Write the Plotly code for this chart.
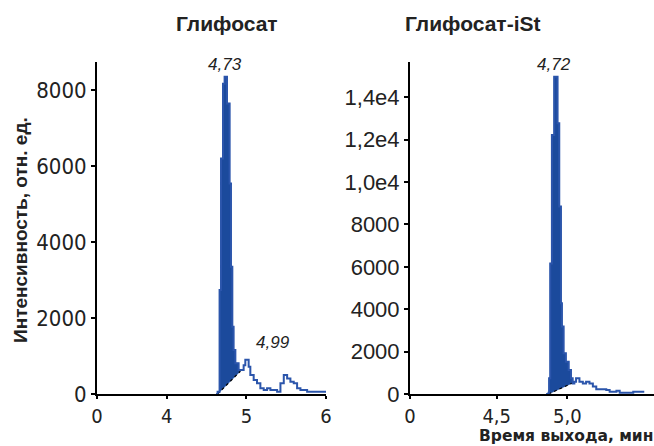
import plotly.graph_objects as go

# ---- data ----
# Left panel: Глифосат
gly_t = [4.62, 4.639, 4.664, 4.682, 4.707, 4.727, 4.757, 4.79, 4.807, 4.824, 4.84, 4.862,
         4.903, 4.946, 4.966, 4.987, 5.008, 5.029, 5.05, 5.092, 5.134, 5.176, 5.218,
         5.26, 5.302, 5.386, 5.428, 5.47, 5.512, 5.553, 5.595, 5.637, 5.679, 5.763, 6.0]
gly_i = [0, 60, 2740, 6200, 8170, 8350, 7650, 5540, 3350, 1770, 1160, 810,
         630, 630, 760, 900, 900, 720, 500, 370, 280, 150, 105,
         150, 105, 60, 280, 500, 410, 325, 280, 150, 105, 60, 30]
gly_fill_end = 4.925          # end of integrated region
gly_base_end = 600            # baseline intensity at end of integration

# Right panel: Глифосат-iSt
ist_t = [4.85, 4.867, 4.871, 4.879, 4.891, 4.907, 4.931, 4.943, 4.955, 4.962, 4.974,
         4.99, 5.01, 5.026, 5.038, 5.05, 5.062, 5.086, 5.11, 5.133, 5.157, 5.181,
         5.205, 5.276, 5.3, 5.348, 5.371, 5.467, 5.538]
ist_i = [0, 60, 740, 6160, 12220, 14970, 12770, 8840, 4280, 3180, 1920,
         1520, 1130, 740, 500, 580, 740, 580, 500, 580, 500, 350,
         220, 190, 110, 150, 60, 110, 60]
ist_fill_end = 5.05
ist_base_end = 560

left_xticks = [0, 4, 5, 6]
left_xtext = ["0", "4", "5", "6"]
right_xticks = [0, 4.5, 5.0]
right_xtext = ["0", "4,5", "5,0"]
left_yticks = [0, 2000, 4000, 6000, 8000]
left_ytext = ["0", "2000", "4000", "6000", "8000"]
right_yticks = [0, 2000, 4000, 6000, 8000, 10000, 12000, 14000]
right_ytext = ["0", "2000", "4000", "6000", "8000", "1,0e4", "1,2e4", "1,4e4"]

titles = ["Глифосат", "Глифосат-iSt"]
peaks = [("4,73", 4.727, 8350), ("4,72", 4.907, 14970)]
minor_peak = ("4,99", 4.99, 900)

BLUE = "#1b4a9c"
LINE = "#2b55ab"
NARROW = "DejaVu Sans Condensed, Liberation Sans Narrow, sans-serif"
SANS = "Liberation Sans, Arial, sans-serif"

# broken-axis: "0" tick drawn left of the real range
left_zero = 3.125
right_zero = 3.886

fig = go.Figure()


def add_panel(t, i, fill_end, base_end, xa, ya):
    t0 = t[1]
    # filled integrated region: stepped curve, then straight baseline back
    px, py = [], []
    pts = [(x, v) for x, v in zip(t, i) if t0 <= x <= fill_end]
    for k, (x, v) in enumerate(pts):
        px.append(x)
        py.append(v)
        nx = pts[k + 1][0] if k + 1 < len(pts) else fill_end
        px.append(nx)
        py.append(v)
    px += [fill_end, t0]
    py += [base_end, 0]
    fig.add_trace(go.Scatter(x=px, y=py, mode="lines", line=dict(color=BLUE, width=0.5),
                             fill="toself", fillcolor=BLUE,
                             xaxis=xa, yaxis=ya, showlegend=False, hoverinfo="skip"))
    # integration baseline (dashed)
    fig.add_trace(go.Scatter(x=[t0, fill_end], y=[0, base_end], mode="lines",
                             line=dict(color="black", width=1.2, dash="dot"),
                             xaxis=xa, yaxis=ya, showlegend=False, hoverinfo="skip"))
    fig.add_trace(go.Scatter(x=t, y=i, mode="lines", line=dict(color=LINE, width=2, shape="hv"),
                             xaxis=xa, yaxis=ya, showlegend=False))


add_panel(gly_t, gly_i, gly_fill_end, gly_base_end, "x", "y")
add_panel(ist_t, ist_i, ist_fill_end, ist_base_end, "x2", "y2")

ydom = [52 / 446, 384 / 446]
axis_common = dict(showgrid=False, zeroline=False, showline=True, linecolor="black",
                   linewidth=2, ticks="outside", tickcolor="black", tickwidth=1.5,
                   automargin=False)
tickf_x = dict(family=NARROW, size=20, color="#222")

fig.update_layout(
    width=654, height=446, autosize=False,
    margin=dict(l=0, r=0, t=0, b=0, pad=0, autoexpand=False),
    plot_bgcolor="white", paper_bgcolor="white",
    xaxis=dict(domain=[97 / 654, 326 / 654], range=[left_zero, 6.0], ticklen=3,
               tickvals=[left_zero] + left_xticks[1:], ticktext=left_xtext,
               tickfont=tickf_x, anchor="y", **axis_common),
    yaxis=dict(domain=ydom, range=[0, 8740], ticklen=4,
               tickvals=left_yticks, ticktext=left_ytext,
               tickfont=dict(family=NARROW, size=22, color="#222"), anchor="x", **axis_common),
    xaxis2=dict(domain=[410 / 654, 1.0], range=[right_zero, 5.614], ticklen=3,
                tickvals=[right_zero] + right_xticks[1:], ticktext=right_xtext,
                tickfont=tickf_x, anchor="y2", **axis_common),
    yaxis2=dict(domain=ydom, range=[0, 15660], ticklen=4,
                tickvals=right_yticks, ticktext=right_ytext,
                tickfont=dict(family=SANS, size=22, color="#222"), anchor="x2", **axis_common),
)

ann = []
ann.append(dict(text="<b>" + titles[0] + "</b>", x=227 / 654, y=1 - 23 / 446, xref="paper", yref="paper",
                showarrow=False, font=dict(family=SANS, size=21, color="#222"), yanchor="middle"))
ann.append(dict(text="<b>" + titles[1] + "</b>", x=543 / 654, y=1 - 23 / 446, xref="paper", yref="paper",
                showarrow=False, font=dict(family=SANS, size=21, color="#222"), yanchor="middle"))
for (lab, px, py), xr, yr in zip(peaks, ["x", "x2"], ["y", "y2"]):
    ann.append(dict(text="<i>" + lab + "</i>", x=px, y=py, xref=xr, yref=yr, showarrow=False,
                    yanchor="bottom", yshift=1, font=dict(family=SANS, size=17, color="#222")))
ann.append(dict(text="<i>" + minor_peak[0] + "</i>", x=minor_peak[1], y=minor_peak[2], xref="x", yref="y",
                showarrow=False, yanchor="bottom", xanchor="left", xshift=8, yshift=6,
                font=dict(family=SANS, size=17, color="#222")))
ann.append(dict(text="<b>Интенсивность, отн. ед.</b>", x=20 / 654, y=1 - 230 / 446, xref="paper", yref="paper",
                showarrow=False, textangle=-90, xanchor="center", yanchor="middle",
                font=dict(family=SANS, size=19, color="#222")))
ann.append(dict(text="<b>Время выхода, мин</b>", x=1.0, y=0, xref="paper", yref="paper",
                showarrow=False, xanchor="right", yanchor="bottom", borderpad=0,
                font=dict(family="DejaVu Sans, sans-serif", size=15.5, color="#222")))
fig.update_layout(annotations=ann)

fig.write_html("out.html", config={"displayModeBar": False, "responsive": False})
with open("out.html", encoding="utf-8") as f:
    html = f.read()
html = html.replace("<head>", "<head><style>html,body{margin:0;padding:0;overflow:hidden;}</style>", 1)
with open("out.html", "w", encoding="utf-8") as f:
    f.write(html)
